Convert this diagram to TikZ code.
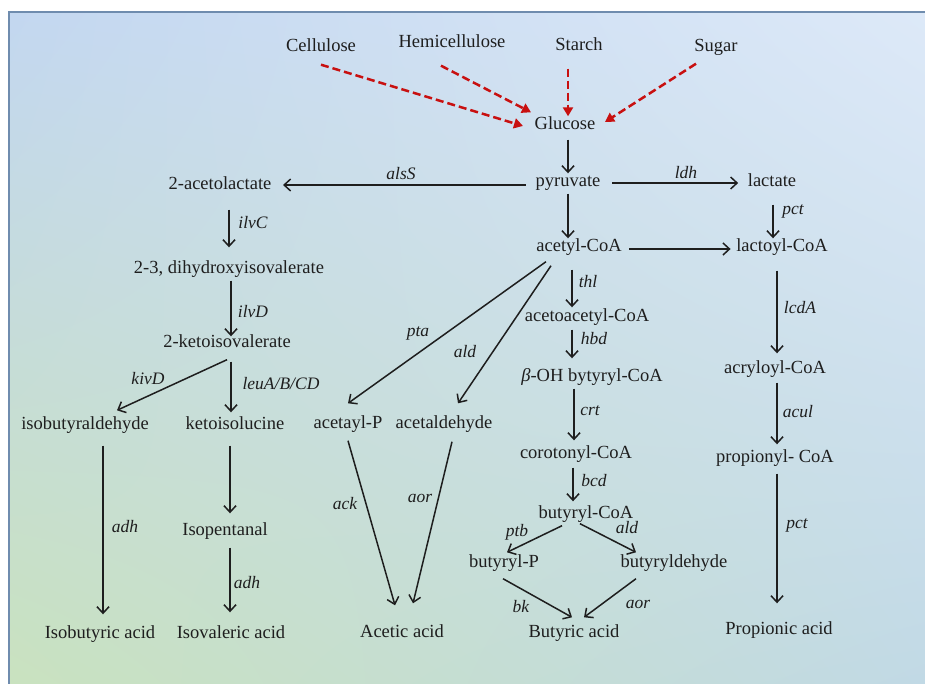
\documentclass[tikz,border=0pt]{standalone}
\usepackage{fontspec}
\setmainfont{Liberation Serif}
\usetikzlibrary{arrows.meta,shadings}
\definecolor{bgTL}{HTML}{C3D7F0}
\definecolor{bgTR}{HTML}{DDE9F8}
\definecolor{bgBL}{HTML}{C9E2BF}
\definecolor{bgBR}{HTML}{C1D9E5}
\definecolor{frameC}{HTML}{6F8CAE}
\definecolor{redA}{HTML}{C81010}
\definecolor{inkC}{HTML}{1E1E1E}
\tikzset{
  cmp/.style={inner sep=1.5pt, text height=12pt, text depth=4pt, text=inkC, font=\fontsize{18.5}{21}\selectfont},
  enz/.style={inner sep=0pt, text=inkC, font=\fontsize{17.5}{20}\selectfont\itshape},
  arr/.style={draw=inkC, line width=1.5pt, -{Straight Barb[length=6.5pt,width=12pt,line width=1.5pt]}},
  rarr/.style={draw=redA, line width=2.5pt, dash pattern=on 8pt off 4pt, -{Triangle[length=9pt,width=10pt]}}
}
\begin{document}
\begin{tikzpicture}[x=1pt,y=-1pt]
\useasboundingbox (0,0) rectangle (925,684);
\fill[white] (0,0) rectangle (925,684);
\shade[upper left=bgTL, upper right=bgTR, lower left=bgBL, lower right=bgBR] (9,12) rectangle (925,684);
\draw[frameC, line width=2pt] (9,684) -- (9,12) -- (925,12);

% compounds
\node[cmp] (cell) at (321,48) {Cellulose};
\node[cmp] (hemi) at (452,44) {Hemicellulose};
\node[cmp] (starch) at (579,47) {Starch};
\node[cmp] (sugar) at (716,48) {Sugar};
\node[cmp] (glu) at (565,126) {Glucose};
\node[cmp] (pyr) at (568,183) {pyruvate};
\node[cmp] (acl) at (220,186) {2-acetolactate};
\node[cmp] (lac) at (772,183) {lactate};
\node[cmp] (acoa) at (579,248) {acetyl-CoA};
\node[cmp] (lcoa) at (782,248) {lactoyl-CoA};
\node[cmp] (dihy) at (229,269) {2-3, dihydroxyisovalerate};
\node[cmp] (acac) at (587,317) {acetoacetyl-CoA};
\node[cmp] (keto) at (227,343) {2-ketoisovalerate};
\node[cmp] (boh) at (592,377) {{\itshape β}-OH bytyryl-CoA};
\node[cmp] (acry) at (775,369) {acryloyl-CoA};
\node[cmp] (isob) at (85,425) {isobutyraldehyde};
\node[cmp] (ketol) at (235,425) {ketoisolucine};
\node[cmp] (acp) at (348,424) {acetayl-P};
\node[cmp] (acald) at (444,424) {acetaldehyde};
\node[cmp] (corot) at (576,454) {corotonyl-CoA};
\node[cmp] (prop) at (775,458) {propionyl- CoA};
\node[cmp] (bcoa) at (586,514) {butyryl-CoA};
\node[cmp] (butp) at (504,563) {butyryl-P};
\node[cmp] (butald) at (674,563) {butyryldehyde};
\node[cmp] (isopent) at (225,531) {Isopentanal};
\node[cmp] (isobut) at (100,634) {Isobutyric acid};
\node[cmp] (isoval) at (231,634) {Isovaleric acid};
\node[cmp] (acetic) at (402,633) {Acetic acid};
\node[cmp] (butyric) at (574,633) {Butyric acid};
\node[cmp] (propac) at (779,630) {Propionic acid};

% enzyme labels
\node[enz] (e1) at (401,174) {alsS};
\node[enz] (e2) at (686,173) {ldh};
\node[enz] (e3) at (793,211) {pct};
\node[enz] (e4) at (253,223) {ilvC};
\node[enz] (e5) at (253,312) {ilvD};
\node[enz] (e6) at (418,333) {pta};
\node[enz] (e7) at (465,352) {ald};
\node[enz] (e8) at (148,379) {kivD};
\node[enz] (e9) at (281,384) {leuA/B/CD};
\node[enz] (e10) at (588,282) {thl};
\node[enz] (e11) at (594,339) {hbd};
\node[enz] (e12) at (800,308) {lcdA};
\node[enz] (e13) at (590,411) {crt};
\node[enz] (e14) at (798,412) {acul};
\node[enz] (e15) at (594,481) {bcd};
\node[enz] (e16) at (517,532) {ptb};
\node[enz] (e17) at (627,528) {ald};
\node[enz] (e18) at (521,607) {bk};
\node[enz] (e19) at (638,604) {aor};
\node[enz] (e20) at (797,525) {pct};
\node[enz] (e21) at (125,527) {adh};
\node[enz] (e22) at (247,583) {adh};
\node[enz] (e23) at (345,504) {ack};
\node[enz] (e24) at (420,498) {aor};

% red dashed feed arrows
\draw[rarr] ([yshift=-7pt]cell.south) -- ([xshift=-10pt]glu.west);
\draw[rarr] ([xshift=-11pt,yshift=-12pt]hemi.south) -- ([xshift=-34pt,yshift=4pt]glu.north);
\draw[rarr] ([xshift=-11pt,yshift=-12pt]starch.south) -- ([xshift=3pt]glu.north);
\draw[rarr] ([xshift=-20pt,yshift=-6pt]sugar.south) -- ([xshift=8pt,yshift=4pt]glu.east);

% central
\draw[arr] ([xshift=3pt,yshift=-4pt]glu.south) -- (pyr.north);
\draw[arr, shorten <=8pt, shorten >=10pt] ([yshift=-2pt]pyr.west) -- ([yshift=-2pt]pyr.west -| acl.east);
\draw[arr, shorten <=10pt, shorten >=8pt] (pyr.east) -- (pyr.east -| lac.west);
\draw[arr] ([yshift=-1pt]pyr.south) -- ([xshift=-11pt]acoa.north);
\draw[arr] ([xshift=1pt,yshift=-12pt]lac.south) -- ([xshift=-9pt]lcoa.north);
\draw[arr, shorten <=6pt, shorten >=4pt] ([yshift=-1pt]acoa.east) -- ([yshift=-1pt]acoa.east -| lcoa.west);

% left branch
\draw[arr] ([xshift=9pt,yshift=-14pt]acl.south) -- ([yshift=12pt]dihy.north);
\draw[arr] ([xshift=2pt,yshift=-2pt]dihy.south) -- ([xshift=4pt,yshift=-3pt]keto.north);
\draw[arr] ([xshift=4pt,yshift=-9pt]keto.south) -- ([xshift=-4pt,yshift=3pt]ketol.north);
\draw[arr] ([yshift=-7pt]keto.south) -- ([xshift=32pt,yshift=5pt]isob.north);
\draw[arr] ([xshift=18pt,yshift=-11pt]isob.south) -- ([xshift=3pt,yshift=10pt]isobut.north);
\draw[arr] ([xshift=-5pt,yshift=-11pt]ketol.south) -- ([xshift=5pt,yshift=8pt]isopent.north);
\draw[arr] ([xshift=5pt,yshift=-7pt]isopent.south) -- ([xshift=-1pt,yshift=12pt]isoval.north);

% acetate branch
\draw[arr] ([xshift=-33pt,yshift=-4pt]acoa.south) -- ([yshift=11pt]acp.north);
\draw[arr] ([xshift=-28pt,yshift=-8pt]acoa.south) -- ([xshift=14pt,yshift=11pt]acald.north);
\draw[arr] ([yshift=-7pt]acp.south) -- ([xshift=-7pt,yshift=18pt]acetic.north);
\draw[arr] ([xshift=8pt,yshift=-8pt]acald.south) -- ([xshift=11pt,yshift=20pt]acetic.north);

% butyrate branch
\draw[arr] ([xshift=-7pt,yshift=-12pt]acoa.south) -- ([xshift=-15pt]acac.north);
\draw[arr] ([xshift=-15pt,yshift=-3pt]acac.south) -- ([xshift=-20pt,yshift=9pt]boh.north);
\draw[arr] ([xshift=-18pt,yshift=-2pt]boh.south) -- ([xshift=-2pt,yshift=4pt]corot.north);
\draw[arr] ([xshift=-3pt,yshift=-4pt]corot.south) -- ([xshift=-13pt,yshift=3pt]bcoa.north);
\draw[arr] ([xshift=-24pt,yshift=-2pt]bcoa.south) -- ([xshift=3pt,yshift=1pt]butp.north);
\draw[arr] ([xshift=-6pt]bcoa.south) -- ([xshift=-38pt,yshift=1pt]butald.north);
\draw[arr] ([xshift=-1pt,yshift=-6pt]butp.south) -- ([xshift=-2pt,yshift=6pt]butyric.north);
\draw[arr] ([xshift=-38pt,yshift=-6pt]butald.south) -- ([xshift=10pt,yshift=6pt]butyric.north);

% propionate branch
\draw[arr] ([xshift=-5pt,yshift=-13pt]lcoa.south) -- ([xshift=2pt,yshift=6pt]acry.north);
\draw[arr] ([xshift=2pt,yshift=-4pt]acry.south) -- ([xshift=2pt,yshift=4pt]prop.north);
\draw[arr] ([xshift=2pt,yshift=-6pt]prop.south) -- ([xshift=-2pt,yshift=17pt]propac.north);
\end{tikzpicture}
\end{document}
